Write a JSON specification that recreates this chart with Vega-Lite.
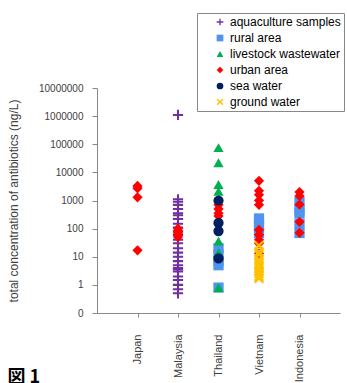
{
  "$schema": "https://vega.github.io/schema/vega-lite/v6.json",
  "width": 243,
  "height": 225,
  "padding": {"left": 7, "top": 12, "right": 2, "bottom": 0},
  "config": {
    "view": {"stroke": null},
    "font": "Liberation Sans",
    "legend": {
      "orient": "none",
      "legendX": 100,
      "legendY": -75,
      "strokeColor": "#888888",
      "fillColor": "white",
      "padding": 3,
      "symbolOffset": 14,
      "labelOffset": 4,
      "labelFontSize": 12,
      "labelColor": "#000000",
      "rowPadding": 4,
      "symbolSize": 45,
      "symbolStrokeWidth": 0
    }
  },
  "title": {
    "text": "図 1",
    "orient": "bottom",
    "anchor": "start",
    "frame": "bounds",
    "font": "Noto Sans CJK JP",
    "fontSize": 18,
    "fontWeight": "bold",
    "color": "#000000",
    "dy": -17
  },
  "data": {
    "values": [
      {"country": "Malaysia", "type": "aquaculture samples", "value": 1100000},
      {"country": "Malaysia", "type": "aquaculture samples", "value": 1100},
      {"country": "Malaysia", "type": "aquaculture samples", "value": 900},
      {"country": "Malaysia", "type": "aquaculture samples", "value": 700},
      {"country": "Malaysia", "type": "aquaculture samples", "value": 500},
      {"country": "Malaysia", "type": "aquaculture samples", "value": 350},
      {"country": "Malaysia", "type": "aquaculture samples", "value": 300},
      {"country": "Malaysia", "type": "aquaculture samples", "value": 220},
      {"country": "Malaysia", "type": "aquaculture samples", "value": 150},
      {"country": "Malaysia", "type": "aquaculture samples", "value": 110},
      {"country": "Malaysia", "type": "aquaculture samples", "value": 80},
      {"country": "Malaysia", "type": "aquaculture samples", "value": 60},
      {"country": "Malaysia", "type": "aquaculture samples", "value": 40},
      {"country": "Malaysia", "type": "aquaculture samples", "value": 30},
      {"country": "Malaysia", "type": "aquaculture samples", "value": 20},
      {"country": "Malaysia", "type": "aquaculture samples", "value": 14},
      {"country": "Malaysia", "type": "aquaculture samples", "value": 10},
      {"country": "Malaysia", "type": "aquaculture samples", "value": 7},
      {"country": "Malaysia", "type": "aquaculture samples", "value": 5},
      {"country": "Malaysia", "type": "aquaculture samples", "value": 4},
      {"country": "Malaysia", "type": "aquaculture samples", "value": 3.5},
      {"country": "Malaysia", "type": "aquaculture samples", "value": 3},
      {"country": "Malaysia", "type": "aquaculture samples", "value": 2},
      {"country": "Malaysia", "type": "aquaculture samples", "value": 1.5},
      {"country": "Malaysia", "type": "aquaculture samples", "value": 1},
      {"country": "Malaysia", "type": "aquaculture samples", "value": 0.7},
      {"country": "Malaysia", "type": "aquaculture samples", "value": 0.5},
      {"country": "Thailand", "type": "rural area", "value": 20},
      {"country": "Thailand", "type": "rural area", "value": 12},
      {"country": "Thailand", "type": "rural area", "value": 7},
      {"country": "Thailand", "type": "rural area", "value": 5},
      {"country": "Thailand", "type": "rural area", "value": 0.8},
      {"country": "Vietnam", "type": "rural area", "value": 230},
      {"country": "Vietnam", "type": "rural area", "value": 130},
      {"country": "Vietnam", "type": "rural area", "value": 70},
      {"country": "Indonesia", "type": "rural area", "value": 900},
      {"country": "Indonesia", "type": "rural area", "value": 450},
      {"country": "Indonesia", "type": "rural area", "value": 350},
      {"country": "Indonesia", "type": "rural area", "value": 150},
      {"country": "Indonesia", "type": "rural area", "value": 70},
      {"country": "Thailand", "type": "livestock wastewater", "value": 76000},
      {"country": "Thailand", "type": "livestock wastewater", "value": 22000},
      {"country": "Thailand", "type": "livestock wastewater", "value": 3700},
      {"country": "Thailand", "type": "livestock wastewater", "value": 2100},
      {"country": "Thailand", "type": "livestock wastewater", "value": 36},
      {"country": "Thailand", "type": "livestock wastewater", "value": 14},
      {"country": "Thailand", "type": "livestock wastewater", "value": 0.8},
      {"country": "Japan", "type": "urban area", "value": 3300},
      {"country": "Japan", "type": "urban area", "value": 2700},
      {"country": "Japan", "type": "urban area", "value": 1300},
      {"country": "Japan", "type": "urban area", "value": 17},
      {"country": "Malaysia", "type": "urban area", "value": 100},
      {"country": "Malaysia", "type": "urban area", "value": 80},
      {"country": "Malaysia", "type": "urban area", "value": 70},
      {"country": "Malaysia", "type": "urban area", "value": 60},
      {"country": "Malaysia", "type": "urban area", "value": 50},
      {"country": "Thailand", "type": "urban area", "value": 700},
      {"country": "Thailand", "type": "urban area", "value": 500},
      {"country": "Thailand", "type": "urban area", "value": 350},
      {"country": "Thailand", "type": "urban area", "value": 280},
      {"country": "Vietnam", "type": "urban area", "value": 5000},
      {"country": "Vietnam", "type": "urban area", "value": 2200},
      {"country": "Vietnam", "type": "urban area", "value": 1600},
      {"country": "Vietnam", "type": "urban area", "value": 1000},
      {"country": "Vietnam", "type": "urban area", "value": 700},
      {"country": "Vietnam", "type": "urban area", "value": 90},
      {"country": "Vietnam", "type": "urban area", "value": 60},
      {"country": "Vietnam", "type": "urban area", "value": 40},
      {"country": "Vietnam", "type": "urban area", "value": 30},
      {"country": "Vietnam", "type": "urban area", "value": 13},
      {"country": "Indonesia", "type": "urban area", "value": 2000},
      {"country": "Indonesia", "type": "urban area", "value": 1450},
      {"country": "Indonesia", "type": "urban area", "value": 720},
      {"country": "Indonesia", "type": "urban area", "value": 175},
      {"country": "Indonesia", "type": "urban area", "value": 71},
      {"country": "Thailand", "type": "sea water", "value": 1000},
      {"country": "Thailand", "type": "sea water", "value": 160},
      {"country": "Thailand", "type": "sea water", "value": 82},
      {"country": "Thailand", "type": "sea water", "value": 8.7},
      {"country": "Vietnam", "type": "ground water", "value": 25},
      {"country": "Vietnam", "type": "ground water", "value": 15},
      {"country": "Vietnam", "type": "ground water", "value": 12},
      {"country": "Vietnam", "type": "ground water", "value": 8},
      {"country": "Vietnam", "type": "ground water", "value": 6},
      {"country": "Vietnam", "type": "ground water", "value": 5},
      {"country": "Vietnam", "type": "ground water", "value": 4},
      {"country": "Vietnam", "type": "ground water", "value": 3},
      {"country": "Vietnam", "type": "ground water", "value": 2.5},
      {"country": "Vietnam", "type": "ground water", "value": 2},
      {"country": "Vietnam", "type": "ground water", "value": 1.7}
    ]
  },
  "mark": {"type": "point", "filled": true, "size": 105, "opacity": 1},
  "encoding": {
    "x": {
      "field": "country",
      "type": "nominal",
      "sort": ["Japan", "Malaysia", "Thailand", "Vietnam", "Indonesia"],
      "scale": {"type": "point", "padding": 1},
      "axis": {
        "title": null,
        "labelAngle": -90,
        "labelAlign": "right",
        "labelBaseline": "middle",
        "labelPadding": 17,
        "labelFontSize": 11,
        "labelColor": "#404040",
        "domainColor": "#888888",
        "tickColor": "#888888",
        "tickSize": 4,
        "grid": false
      }
    },
    "y": {
      "field": "value",
      "type": "quantitative",
      "scale": {"type": "log", "domain": [0.1, 10000000], "nice": false},
      "axis": {
        "title": "total concentration of antibiotics (ng/L)",
        "titleFontSize": 12,
        "titleFontWeight": "normal",
        "titleColor": "#404040",
        "titlePadding": 18,
        "values": [0.1, 1, 10, 100, 1000, 10000, 100000, 1000000, 10000000],
        "labelExpr": "datum.value < 1 ? '0' : format(datum.value, 'd')",
        "labelFontSize": 10,
        "labelColor": "#404040",
        "labelPadding": 9,
        "domainColor": "#888888",
        "tickColor": "#888888",
        "tickSize": 5,
        "grid": false
      }
    },
    "color": {
      "field": "type",
      "type": "nominal",
      "scale": {
        "domain": ["aquaculture samples", "rural area", "livestock wastewater", "urban area", "sea water", "ground water"],
        "range": ["#7030A0", "#4F94EF", "#00B050", "#FF0000", "#002060", "#FFC000"]
      },
      "legend": {"title": null}
    },
    "shape": {
      "field": "type",
      "type": "nominal",
      "scale": {
        "domain": ["aquaculture samples", "rural area", "livestock wastewater", "urban area", "sea water", "ground water"],
        "range": [
          "M-1,-0.2L-0.2,-0.2L-0.2,-1L0.2,-1L0.2,-0.2L1,-0.2L1,0.2L0.2,0.2L0.2,1L-0.2,1L-0.2,0.2L-1,0.2Z",
          "square",
          "triangle-up",
          "diamond",
          "circle",
          "M-1,-0.7L-0.7,-1L0,-0.3L0.7,-1L1,-0.7L0.3,0L1,0.7L0.7,1L0,0.3L-0.7,1L-1,0.7L-0.3,0Z"
        ]
      },
      "legend": {"title": null}
    }
  }
}
